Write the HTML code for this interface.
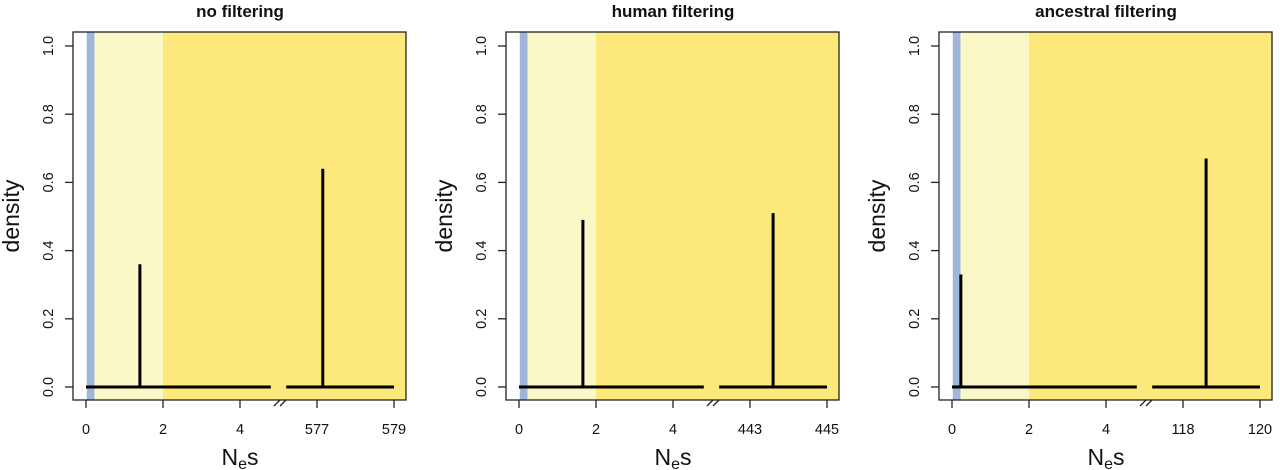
<!DOCTYPE html>
<html><head><meta charset="utf-8">
<style>
html,body{margin:0;padding:0;background:#fff;width:1280px;height:470px;overflow:hidden;}
svg{display:block;font-family:"Liberation Sans",Arial,sans-serif;}
</style></head>
<body>
<svg id="chart" width="1280" height="470" viewBox="0 0 1280 470" xmlns="http://www.w3.org/2000/svg"></svg>
<script>
const panelTitles = ["no filtering", "human filtering", "ancestral filtering"];
const leftSpikeX = [1.4, 1.66, 0.23];
const leftSpikeY = [0.36, 0.49, 0.33];
const rightSpikeX = [577.15, 443.6, 118.6];
const rightSpikeY = [0.64, 0.51, 0.67];
const rightTickBase = [577, 443, 118];
const leftTicks = [0, 2, 4];
const yTicks = ["0.0", "0.2", "0.4", "0.6", "0.8", "1.0"];

const svg = document.getElementById('chart');
const NS = "http://www.w3.org/2000/svg";
function mk(tag, attrs, parent) {
  const e = document.createElementNS(NS, tag);
  for (const k in attrs) e.setAttribute(k, attrs[k]);
  (parent || svg).appendChild(e);
  return e;
}
const UNIT = 38.5;
panelTitles.forEach((title, i) => {
  const off = 433 * i;
  const g = mk('g', {});
  
  
  const x0 = 86 + off;
  const xL = v => x0 + v * UNIT;
  const rb = rightTickBase[i];
  const xR = v => (317 + off) + (v - rb) * UNIT;
  const y = v => 387 - v * 341;
  const boxL = 73 + off, boxR = 406 + off, boxT = 32, boxB = 400;
  const lightY = mk('rect', {x: xL(0.22), y: boxT, width: xL(2) - xL(0.22), height: boxB - boxT, fill: '#fbf8c8'}, g);
  
  
  const darkY = mk('rect', {x: xL(2), y: boxT, width: boxR - xL(2), height: boxB - boxT, fill: '#fde97b'}, g);
  
  
  const blue = mk('rect', {x: xL(0.02), y: boxT, width: xL(0.22) - xL(0.02), height: boxB - boxT, fill: '#9fb5d9'}, g);
  
  
  const b1 = mk('line', {x1: xL(0), x2: xL(4.8), y1: y(0), y2: y(0), stroke: '#000', 'stroke-width': 3}, g);
  
  
  const b2 = mk('line', {x1: xR(rb - 0.8), x2: xR(rb + 2), y1: y(0), y2: y(0), stroke: '#000', 'stroke-width': 3}, g);
  
  
  const s1 = mk('line', {x1: xL(leftSpikeX[i]), x2: xL(leftSpikeX[i]), y1: y(0), y2: y(leftSpikeY[i]), stroke: '#000', 'stroke-width': 3}, g);
  
  
  const s2 = mk('line', {x1: xR(rightSpikeX[i]), x2: xR(rightSpikeX[i]), y1: y(0), y2: y(rightSpikeY[i]), stroke: '#000', 'stroke-width': 3}, g);
  
  
  const box = mk('rect', {x: boxL, y: boxT, width: boxR - boxL, height: boxB - boxT, fill: 'none', stroke: '#222', 'stroke-width': 1.3}, g);
  
  
  const xt = [];
  leftTicks.forEach(t => xt.push([xL(t), String(t)]));
  [rb, rb + 2].forEach(t => xt.push([xR(t), String(t)]));
  xt.forEach(([px, lab]) => {
    mk('line', {x1: px, x2: px, y1: boxB, y2: boxB + 8, stroke: '#222', 'stroke-width': 1.3}, g);
    const tl = mk('text', {x: px, y: 434, 'text-anchor': 'middle', 'font-size': 14.5, fill: '#111'}, g);
    tl.textContent = lab;
    
    
  });
  const bx = 280 + off;
  mk('path', {d: `M${bx - 6} ${boxB + 6} L${bx} ${boxB} M${bx} ${boxB + 6} L${bx + 6} ${boxB}`, stroke: '#222', 'stroke-width': 1.3, fill: 'none'}, g);
  yTicks.forEach((lab, k) => {
    const py = y(k * 0.2);
    mk('line', {x1: boxL - 8, x2: boxL, y1: py, y2: py, stroke: '#222', 'stroke-width': 1.3}, g);
    const tl = mk('text', {x: 53 + off, y: py, 'text-anchor': 'middle', 'font-size': 14.5, fill: '#111', transform: `rotate(-90 ${53 + off} ${py})`}, g);
    tl.textContent = lab;
    
    
  });
  const yl = mk('text', {x: 19 + off, y: 216, 'text-anchor': 'middle', 'font-size': 23, fill: '#111', transform: `rotate(-90 ${19 + off} 216)`}, g);
  yl.textContent = 'density';
  
  
  const xl = mk('text', {x: 240 + off, y: 465, 'text-anchor': 'middle', 'font-size': 23, fill: '#111'}, g);
  xl.innerHTML = 'N<tspan font-size="16" dy="4">e</tspan><tspan dy="-4">s</tspan>';
  
  
  const tt = mk('text', {x: 240 + off, y: 17, 'text-anchor': 'middle', 'font-size': 17, 'font-weight': 'bold', fill: '#111'}, g);
  tt.textContent = title;
  
  
});
</script>
</body></html>
